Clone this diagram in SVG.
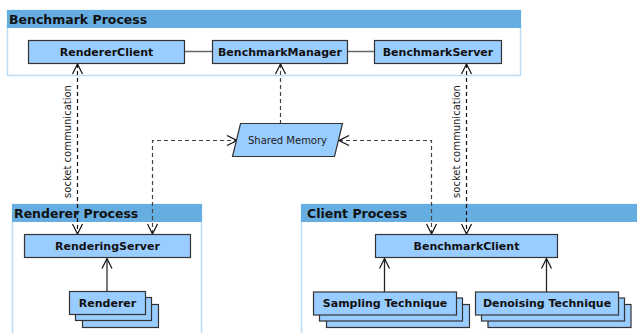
<svg xmlns="http://www.w3.org/2000/svg" width="637" height="333" viewBox="0 0 637 333">
  <style>
    .frame { fill: #ffffff; stroke: #bcdcf5; stroke-width: 1.5; }
    .band { fill: #66aee2; }
    .title { font-family: "DejaVu Sans", sans-serif; font-size: 12.5px; font-weight: bold; fill: #111; }
    .box { fill: #99ccff; stroke: #333333; stroke-width: 1.2; }
    .label { font-family: "DejaVu Sans", sans-serif; font-size: 11px; font-weight: bold; fill: #111; text-anchor: middle; }
    .note { font-family: "DejaVu Sans", sans-serif; font-size: 10px; fill: #222; text-anchor: middle; }
    .assoc { stroke: #666666; stroke-width: 1.5; fill: none; }
    .dash { stroke: #444444; stroke-width: 1.2; stroke-dasharray: 4 3; fill: none; }
    .sock { stroke: #111111; stroke-width: 1.2; stroke-dasharray: 4 3; fill: none; }
    .inherit { stroke: #222222; stroke-width: 1.3; fill: none; }
    .inherit-gray { stroke: #777777; stroke-width: 2; fill: none; }
  </style>
  <defs>
    <marker id="open" viewBox="0 0 12 12" refX="11" refY="6" markerWidth="12" markerHeight="12" markerUnits="userSpaceOnUse" orient="auto-start-reverse">
      <path d="M1,1 L11,6 L1,11" fill="none" stroke="#111" stroke-width="1.2"/>
    </marker>
  </defs>

  <!-- process containers -->
  <g id="benchmark-process">
    <rect class="frame" x="7.5" y="10.5" width="513" height="65"/>
    <rect class="band" x="7" y="10" width="514" height="18"/>
    <text class="title" x="9" y="23.5">Benchmark Process</text>
  </g>
  <g id="renderer-process">
    <rect class="frame" x="12.5" y="204.5" width="189" height="140"/>
    <rect class="band" x="12" y="204" width="190" height="18"/>
    <text class="title" x="14" y="217.5">Renderer Process</text>
  </g>
  <g id="client-process">
    <rect class="frame" x="301.5" y="204.5" width="350" height="140"/>
    <rect class="band" x="301" y="204" width="340" height="18"/>
    <text class="title" x="307" y="217.5">Client Process</text>
  </g>

  <!-- connectors -->
  <g id="connectors">
    <line class="assoc" x1="185" y1="51.5" x2="212" y2="51.5"/>
    <line class="assoc" x1="348" y1="51.5" x2="374" y2="51.5"/>
    <!-- socket communication links -->
    <line class="sock" x1="77.5" y1="64" x2="77.5" y2="234" marker-start="url(#open)" marker-end="url(#open)"/>
    <text class="note" transform="translate(71,141.5) rotate(-90)">socket communication</text>
    <line class="sock" x1="466.5" y1="64" x2="466.5" y2="234" marker-start="url(#open)" marker-end="url(#open)"/>
    <text class="note" transform="translate(460,141.5) rotate(-90)">socket communication</text>
    <!-- shared memory links -->
    <line class="dash" x1="280.5" y1="64" x2="280.5" y2="123.5" marker-start="url(#open)"/>
    <polyline class="dash" points="152.5,234 152.5,140.5 237,140.5" marker-start="url(#open)" marker-end="url(#open)"/>
    <polyline class="dash" points="339,140.5 431.5,140.5 431.5,234" marker-start="url(#open)" marker-end="url(#open)"/>
    <!-- realisations -->
    <line class="inherit-gray" x1="107" y1="291" x2="107" y2="258.5" marker-end="url(#open)"/>
    <line class="inherit" x1="384.5" y1="292" x2="384.5" y2="258.5" marker-end="url(#open)"/>
    <line class="inherit" x1="546.5" y1="292" x2="546.5" y2="258.5" marker-end="url(#open)"/>
  </g>

  <!-- nodes -->
  <g id="renderer-client">
    <rect class="box" x="28.5" y="40.5" width="156" height="23"/>
    <text class="label" x="106.5" y="55.5">RendererClient</text>
  </g>
  <g id="benchmark-manager">
    <rect class="box" x="212.5" y="40.5" width="135" height="23"/>
    <text class="label" x="280" y="55.5">BenchmarkManager</text>
  </g>
  <g id="benchmark-server">
    <rect class="box" x="374.5" y="40.5" width="127" height="23"/>
    <text class="label" x="438" y="55.5">BenchmarkServer</text>
  </g>
  <g id="shared-memory">
    <polygon class="box" points="240.5,123.5 342.5,123.5 334.5,156.5 232.5,156.5"/>
    <text class="note" x="287.5" y="144">Shared Memory</text>
  </g>
  <g id="rendering-server">
    <rect class="box" x="24.5" y="234.5" width="166" height="23"/>
    <text class="label" x="107.5" y="249.5">RenderingServer</text>
  </g>
  <g id="renderer">
    <rect class="box" x="82.5" y="304.5" width="76" height="23"/>
    <rect class="box" x="75.5" y="297.5" width="76" height="23"/>
    <rect class="box" x="69.5" y="291.5" width="76" height="23"/>
    <text class="label" x="107.5" y="306.5">Renderer</text>
  </g>
  <g id="benchmark-client">
    <rect class="box" x="375.5" y="234.5" width="182" height="23"/>
    <text class="label" x="466.5" y="249.5">BenchmarkClient</text>
  </g>
  <g id="sampling-technique">
    <rect class="box" x="326.5" y="304.5" width="143" height="23"/>
    <rect class="box" x="319.5" y="298" width="143" height="23"/>
    <rect class="box" x="313.5" y="292" width="143" height="23"/>
    <text class="label" x="385" y="307">Sampling Technique</text>
  </g>
  <g id="denoising-technique">
    <rect class="box" x="488" y="304.5" width="143" height="23"/>
    <rect class="box" x="481.5" y="298" width="143" height="23"/>
    <rect class="box" x="475.5" y="292" width="143" height="23"/>
    <text class="label" x="547" y="307">Denoising Technique</text>
  </g>
</svg>
